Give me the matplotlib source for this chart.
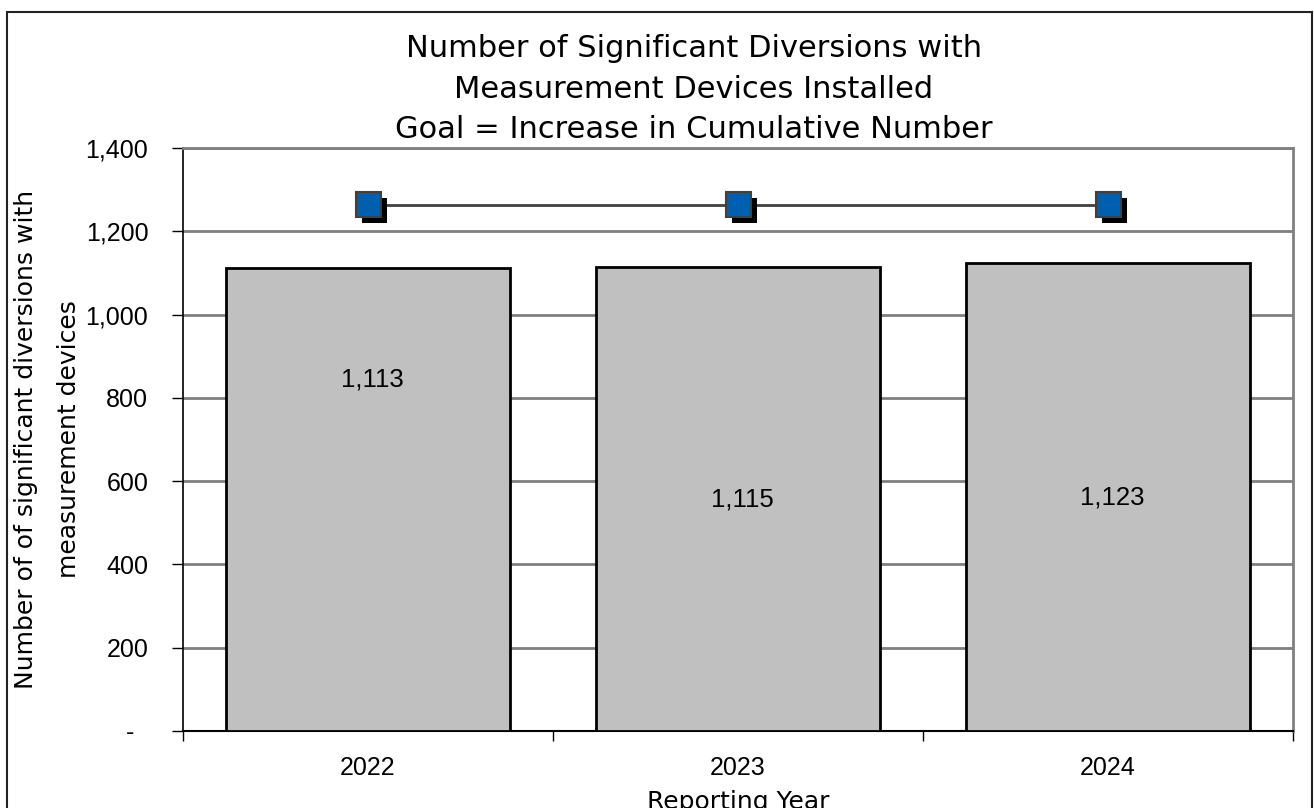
import matplotlib
matplotlib.use("Agg")
import matplotlib.pyplot as plt
import matplotlib.patheffects as pe
from matplotlib.patches import Rectangle
from matplotlib.ticker import FuncFormatter

WORD_FONT = ['DejaVu Sans']
NUM_FONT = ['Liberation Sans', 'DejaVu Sans']
plt.rcParams['font.family'] = NUM_FONT

years = ["2022", "2023", "2024"]
installed = [1113, 1115, 1123]
goal = [1264, 1264, 1264]
label_y = [845, 555, 561]

W, H = 1314, 808
fig = plt.figure(figsize=(W / 100, H / 100), dpi=100)
fig.patches.append(Rectangle((7 / W, -0.01), (1312 - 7) / W, (H - 12) / H + 0.01,
                             transform=fig.transFigure, fill=False,
                             edgecolor='#222222', linewidth=1.5))

ax = fig.add_axes([183 / W, 1 - 731 / H, (1293 - 183) / W, (731 - 148) / H])

x = list(range(len(years)))
ax.bar(x, installed, width=0.77, color='#c0c0c0', edgecolor='black', linewidth=2, zorder=3)

for xi, v, ly in zip(x, installed, label_y):
    ax.text(xi + 0.012, ly, f"{v:,}", ha='center', va='center', fontsize=18.5, zorder=5)

ax.plot(x, goal, color='#404040', linewidth=2, zorder=4)
ax.plot(x, goal, linestyle='none', marker='s', markersize=18,
        markerfacecolor='#0060b0', markeredgecolor='#404040', markeredgewidth=1.5,
        zorder=6,
        path_effects=[pe.SimplePatchShadow(offset=(4.5, -4.5), shadow_rgbFace='black', alpha=1.0),
                      pe.Normal()])

ax.set_xlim(-0.5, 2.5)
ax.set_ylim(0, 1400)
ax.set_yticks(range(0, 1401, 200))
ax.yaxis.set_major_formatter(FuncFormatter(lambda v, p: "-  " if v == 0 else f"{int(v):,}"))
ax.grid(axis='y', color='#808080', linewidth=2, zorder=0)

ax.set_xticks(x)
ax.set_xticklabels(years)
ax.set_xticks([-0.5, 0.5, 1.5, 2.5], minor=True)
ax.tick_params(axis='x', which='major', length=0, labelsize=18, pad=18)
ax.tick_params(axis='x', which='minor', length=7, width=1, color='black', direction='out')
ax.tick_params(axis='y', length=8, width=1, labelsize=18, pad=17)

for side in ('top', 'right'):
    ax.spines[side].set_color('#808080')
    ax.spines[side].set_linewidth(2)
ax.spines['left'].set_color('black')
ax.spines['bottom'].set_color('black')
ax.spines['left'].set_linewidth(1.2)
ax.spines['bottom'].set_linewidth(1.5)

ax.set_xlabel("Reporting Year", fontsize=18, family=WORD_FONT, labelpad=7)
ax.set_ylabel("Number of of significant diversions with\nmeasurement devices", fontsize=18,
              family=WORD_FONT, labelpad=3, linespacing=2.0)

fig.text(694 / W, 1 - 34 / H,
         "Number of Significant Diversions with\nMeasurement Devices Installed\nGoal = Increase in Cumulative Number",
         ha='center', va='top', fontsize=22, family=WORD_FONT, linespacing=1.5)

fig.savefig("out.png", dpi=100)
